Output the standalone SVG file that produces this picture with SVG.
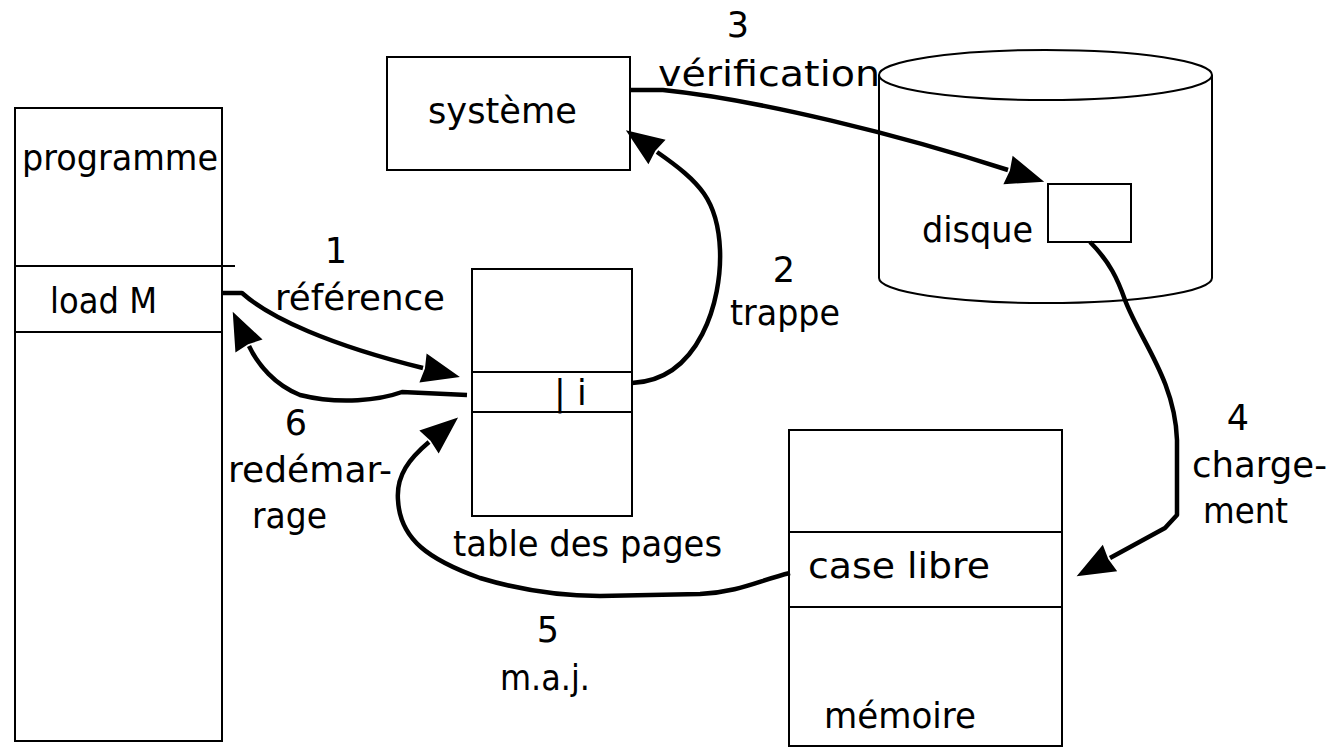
<svg xmlns="http://www.w3.org/2000/svg" width="1330" height="748" viewBox="0 0 1330 748">
  <style>
    .box { fill: #fff; stroke: #000; stroke-width: 2; }
    .sep { stroke: #000; stroke-width: 2; fill: none; }
    .conn { fill: none; stroke: #000; stroke-width: 4.5; stroke-linejoin: round; marker-end: url(#head); }
    text { font-family: "DejaVu Sans", "Liberation Sans", sans-serif; font-size: 35px; fill: #000; }
    .mid { text-anchor: middle; }
  </style>
  <defs>
    <marker id="head" markerUnits="userSpaceOnUse" viewBox="-2 -18 44 36" markerWidth="44" markerHeight="36" refX="0" refY="0" orient="auto">
      <path d="M38,0 L0,-15 L2,0 L0,15 Z" fill="#000"/>
    </marker>
  </defs>

  <rect width="1330" height="748" fill="#fff"/>

  <!-- program memory column -->
  <g id="programme">
    <rect class="box" x="15" y="108" width="207" height="633"/>
    <line class="sep" x1="15" y1="266" x2="235" y2="266"/>
    <line class="sep" x1="15" y1="332" x2="222" y2="332"/>
    <text x="22" y="170" textLength="196" lengthAdjust="spacingAndGlyphs">programme</text>
    <text x="50" y="313" textLength="107" lengthAdjust="spacingAndGlyphs">load M</text>
  </g>

  <!-- operating system -->
  <g id="systeme">
    <rect class="box" x="387" y="57" width="243" height="113"/>
    <text x="428" y="123" textLength="149" lengthAdjust="spacingAndGlyphs">système</text>
  </g>

  <!-- page table -->
  <g id="table">
    <rect class="box" x="472" y="269" width="160" height="247"/>
    <line class="sep" x1="472" y1="372" x2="632" y2="372"/>
    <line class="sep" x1="472" y1="412" x2="632" y2="412"/>
    <text x="554" y="405">| i</text>
    <text x="453" y="556" textLength="269" lengthAdjust="spacingAndGlyphs">table des pages</text>
  </g>

  <!-- disk cylinder -->
  <g id="disque">
    <ellipse class="sep" cx="1045.5" cy="75" rx="166.5" ry="25"/>
    <line class="sep" x1="879" y1="75" x2="879" y2="278"/>
    <line class="sep" x1="1212" y1="75" x2="1212" y2="278"/>
    <path class="sep" d="M879,278 A166.5,25 0 0 0 1212,278"/>
    <rect class="box" x="1048" y="184" width="83" height="58"/>
    <text x="922" y="242" textLength="111" lengthAdjust="spacingAndGlyphs">disque</text>
  </g>

  <!-- main memory -->
  <g id="memoire">
    <rect class="box" x="789" y="430" width="273" height="316"/>
    <line class="sep" x1="789" y1="532" x2="1062" y2="532"/>
    <line class="sep" x1="789" y1="607" x2="1062" y2="607"/>
    <text x="808" y="578" textLength="182" lengthAdjust="spacingAndGlyphs">case libre</text>
    <text x="824" y="728" textLength="152" lengthAdjust="spacingAndGlyphs">mémoire</text>
  </g>

  <!-- numbered steps -->
  <g id="connectors">
    <!-- 1 reference -->
    <path class="conn" d="M222,293 H242 C270,318 330,345 423,368"/>
    <!-- 2 trap -->
    <path class="conn" d="M632,383 C700,380 722,300 720,250 C718,200 700,182 657,152"/>
    <!-- 3 check -->
    <path class="conn" d="M630,90 H663 C760,100 900,135 1008,170"/>
    <!-- 4 load -->
    <path class="conn" d="M1090,242 C1110,262 1118,280 1125,300 C1140,340 1175,380 1177,440 L1177,515 L1165,528 L1110,558"/>
    <!-- 5 update -->
    <path class="conn" d="M790,573 C760,580 740,592 700,594 L600,596 C560,596 520,590 480,578 C430,560 400,540 398,500 C396,475 410,458 429,442"/>
    <!-- 6 restart -->
    <path class="conn" d="M467,395 L402,392 C380,400 340,405 300,395 C275,385 258,365 249,346"/>
  </g>

  <g id="labels">
    <text class="mid" x="336" y="263">1</text>
    <text x="275" y="310" textLength="170" lengthAdjust="spacingAndGlyphs">référence</text>
    <text class="mid" x="784" y="282">2</text>
    <text x="730" y="325" textLength="110" lengthAdjust="spacingAndGlyphs">trappe</text>
    <text class="mid" x="738" y="37">3</text>
    <text x="658" y="86" textLength="222" lengthAdjust="spacingAndGlyphs">vérification</text>
    <text class="mid" x="1238" y="430">4</text>
    <text x="1192" y="477" textLength="135" lengthAdjust="spacingAndGlyphs">charge-</text>
    <text x="1203" y="523" textLength="85" lengthAdjust="spacingAndGlyphs">ment</text>
    <text class="mid" x="548" y="642">5</text>
    <text x="500" y="690" textLength="90" lengthAdjust="spacingAndGlyphs">m.a.j.</text>
    <text class="mid" x="296" y="435">6</text>
    <text x="228" y="482" textLength="164" lengthAdjust="spacingAndGlyphs">redémar-</text>
    <text x="252" y="528" textLength="75" lengthAdjust="spacingAndGlyphs">rage</text>
  </g>
</svg>
